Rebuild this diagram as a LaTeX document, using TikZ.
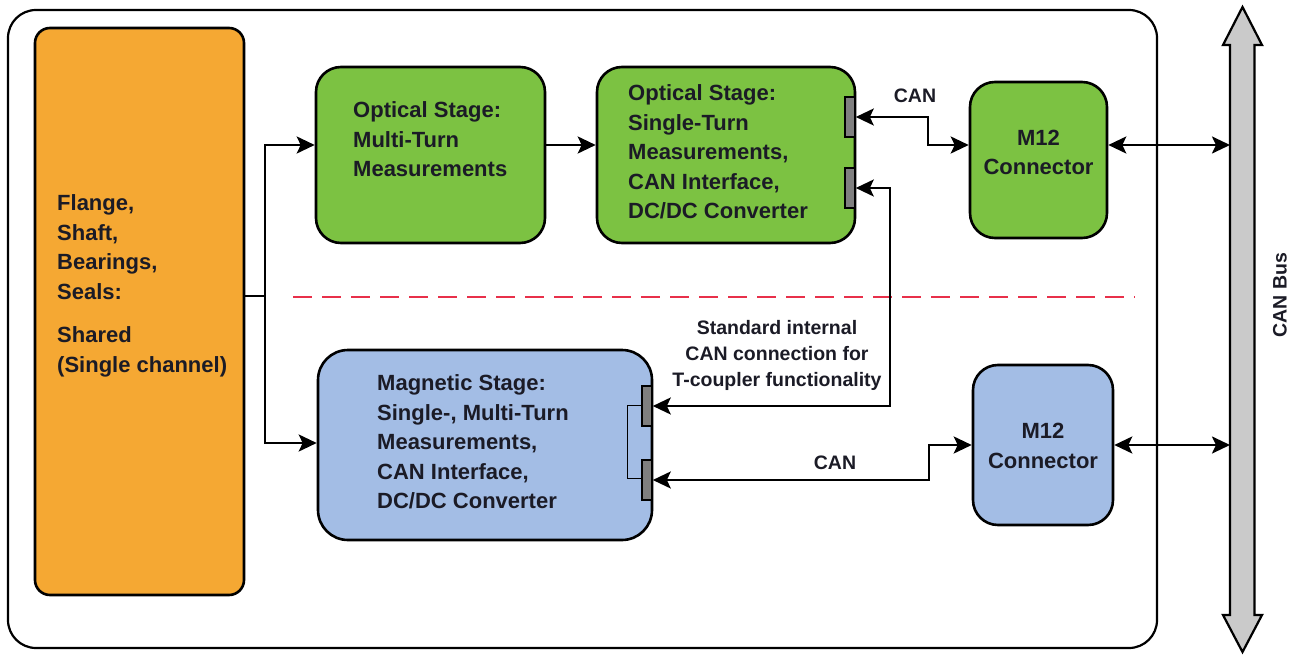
\documentclass[tikz,border=0pt]{standalone}
\usepackage{fontspec}
\setmainfont{Liberation Sans}
\usetikzlibrary{arrows.meta,calc}
\definecolor{orangef}{HTML}{F5A833}
\definecolor{greenf}{HTML}{7CC242}
\definecolor{bluef}{HTML}{A3BDE5}
\definecolor{portf}{HTML}{7F7F7F}
\definecolor{busf}{HTML}{CACACA}
\definecolor{dashred}{HTML}{E8304A}
\definecolor{txt}{HTML}{1B1B26}
\begin{document}
\begin{tikzpicture}[x=1pt,y=-1pt,
  box/.style={draw=black, line width=2.6pt, inner sep=0pt, rectangle},
  port/.style={draw=black, line width=1.6pt, fill=portf, minimum width=10pt, minimum height=40pt, inner sep=0pt},
  boxtext/.style={font=\fontsize{22}{29.5}\selectfont\bfseries, text=txt, align=left, inner sep=0pt, anchor=north west},
  m12text/.style={font=\fontsize{22}{29.5}\selectfont\bfseries, text=txt, align=center, inner sep=0pt},
  lbl/.style={font=\fontsize{19.5}{26}\selectfont\bfseries, text=txt, align=center, inner sep=0pt},
  conn/.style={draw=black, line width=2.5pt},
  tip/.tip={Stealth[length=18pt,width=17pt,inset=4pt]},
  arr/.style={conn, -tip},
  darr/.style={conn, tip-tip},
]
\useasboundingbox (0,0) rectangle (1298,655);
\fill[white] (0,0) rectangle (1298,655);

% outer frame
\draw[line width=2.2pt, rounded corners=28pt] (8,10) rectangle (1157,648);

% boxes
\node[box, fill=orangef, rounded corners=15pt, minimum width=209pt, minimum height=567pt] (orange) at (139.5,311.5) {};
\node[box, fill=greenf, rounded corners=25pt, minimum width=229pt, minimum height=176pt] (g1) at (430.5,155) {};
\node[box, fill=greenf, rounded corners=25pt, minimum width=258pt, minimum height=176pt] (g2) at (726,155) {};
\node[box, fill=greenf, rounded corners=25pt, minimum width=137pt, minimum height=156pt] (m1) at (1038.5,160) {};
\node[box, fill=bluef, rounded corners=30pt, minimum width=334pt, minimum height=190pt] (blue) at (485,445) {};
\node[box, fill=bluef, rounded corners=25pt, minimum width=140pt, minimum height=160pt] (m2) at (1043,445) {};

% ports
\node[port] (gp1) at (850,117) {};
\node[port] (gp2) at (850,188) {};
\node[port] (bp1) at (647,406) {};
\node[port] (bp2) at (647,480) {};
\draw[line width=1pt] (bp1.west |- 0,405) -- (627,405) -- (627,478) -- (bp2.west |- 0,478);

% texts
\node[boxtext] (ot) at (57,194.5) {Flange,\\Shaft,\\Bearings,\\Seals:\\[14pt]Shared\\(Single channel)};
\node[boxtext] (g1t) at (353,101.5) {Optical Stage:\\Multi-Turn\\Measurements};
\node[boxtext] (g2t) at (628,84.5) {Optical Stage:\\Single-Turn\\Measurements,\\CAN Interface,\\DC/DC Converter};
\node[boxtext] (bt) at (377,374.5) {Magnetic Stage:\\Single-, Multi-Turn\\Measurements,\\CAN Interface,\\DC/DC Converter};
\node[m12text] (m1t) at (1038.5,152.5) {M12\\Connector};
\node[m12text] (m2t) at (1043,446) {M12\\Connector};

% dashed separator
\draw[dashred, line width=2.8pt, dash pattern=on 19pt off 10pt] (293,297) -- (1135,297);

% CAN bus
\draw[line width=2.2pt, fill=busf] (1242.5,7) -- (1262,45) -- (1254.5,45) -- (1254.5,615) -- (1262,615) -- (1242.5,652) -- (1223,615) -- (1230,615) -- (1230,45) -- (1223,45) -- cycle;
\coordinate (busL) at (1230,0);
\node[lbl, rotate=90] (buslbl) at (1280,295) {CAN Bus};

% branch from orange
\coordinate (split) at (265,296);
\draw[conn] (orange.east |- split) -- (split);
\draw[arr] (split) |- ([yshift=10pt]g1.west);
\draw[arr] (split) |- ([yshift=2pt]blue.west);

% g1 -> g2
\draw[arr] ([yshift=10pt]g1.east) -- ([yshift=10pt]g2.west);

% upper CAN
\draw[darr] (gp1.east) -- ++(72,0) |- ([yshift=15pt]m1.west);
\node[lbl] (can1) at (915,96) {CAN};

% internal connection
\draw[darr] (gp2.east) -- ++(34,0) |- (bp1.east);
\node[lbl] (intl) at (777,355) {Standard internal\\CAN connection for\\T-coupler functionality};

% lower CAN
\draw[darr] (bp2.east) -- ++(276,0) |- (m2.west);
\node[lbl] (can2) at (835,463) {CAN};

% M12 to bus
\coordinate (m1p) at ([yshift=15pt]m1.east);
\draw[darr] (m1p) -- (m1p -| busL);
\draw[darr] (m2.east) -- (m2.east -| busL);
\end{tikzpicture}
\end{document}
